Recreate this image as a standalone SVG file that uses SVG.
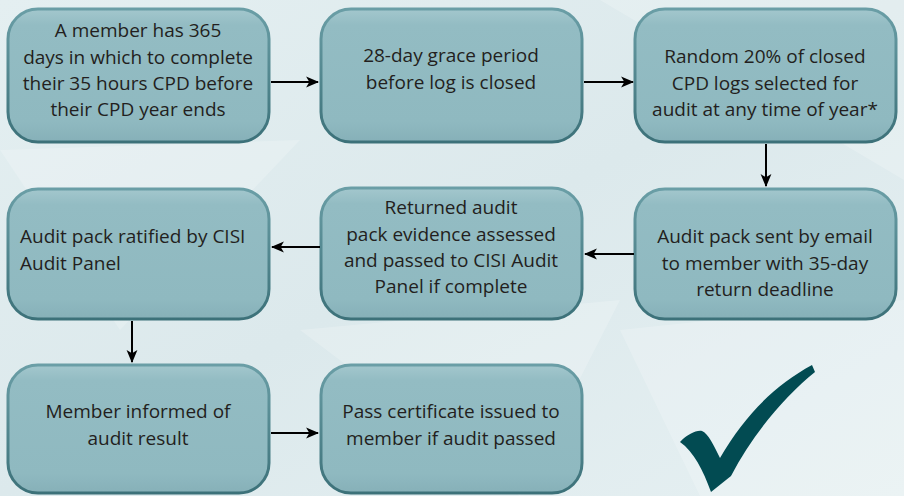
<svg xmlns="http://www.w3.org/2000/svg" width="904" height="496" viewBox="0 0 904 496">
  <defs>
    <linearGradient id="bg" x1="0" y1="0" x2="1" y2="1">
      <stop offset="0" stop-color="#e4eff1"/>
      <stop offset="0.5" stop-color="#dce9ec"/>
      <stop offset="1" stop-color="#e6f0f2"/>
    </linearGradient>
    <linearGradient id="boxFill" x1="0" y1="0" x2="0" y2="1">
      <stop offset="0" stop-color="#a3c7cd"/>
      <stop offset="0.12" stop-color="#93bcc3"/>
      <stop offset="0.85" stop-color="#8fb9c0"/>
      <stop offset="1" stop-color="#86b0b8"/>
    </linearGradient>
    <linearGradient id="boxEdge" x1="0" y1="0" x2="0" y2="1">
      <stop offset="0" stop-color="#6a9ea6"/>
      <stop offset="1" stop-color="#3c7179"/>
    </linearGradient>
    <marker id="head" viewBox="0 0 12 12" refX="11" refY="6" markerWidth="13" markerHeight="13" markerUnits="userSpaceOnUse" orient="auto">
      <path d="M0,1 L12,6 L0,11 L3,6 Z" fill="#000"/>
    </marker>
  </defs>
  <style>
    .box { fill: url(#boxFill); stroke: url(#boxEdge); stroke-width: 3; }
    .label { font-family: "Open Sans", "Noto Sans", sans-serif; font-size: 19px; fill: #231f20; text-anchor: middle; }
    .left { text-anchor: start; }
    .conn { stroke: #000; stroke-width: 2; fill: none; marker-end: url(#head); }
  </style>

  <!-- background with faint facets -->
  <rect width="904" height="496" fill="url(#bg)"/>
  <g fill="#ffffff" opacity="0.2">
    <polygon points="0,150 300,140 120,330"/>
    <polygon points="600,0 904,0 904,180"/>
    <polygon points="300,330 620,300 520,496"/>
    <polygon points="620,330 904,300 904,496 700,496"/>
  </g>

  <!-- steps -->
  <g id="step-cpd-year">
    <rect class="box" x="8" y="9" width="261" height="133" rx="30"/>
    <text class="label" x="138" y="37">A member has 365</text>
    <text class="label" x="138" y="63.5">days in which to complete</text>
    <text class="label" x="138" y="90">their 35 hours CPD before</text>
    <text class="label" x="138" y="116">their CPD year ends</text>
  </g>
  <g id="step-grace">
    <rect class="box" x="321" y="9" width="261" height="133" rx="30"/>
    <text class="label" x="451" y="62">28-day grace period</text>
    <text class="label" x="451" y="89">before log is closed</text>
  </g>
  <g id="step-random">
    <rect class="box" x="635" y="9" width="261" height="133" rx="30"/>
    <text class="label" x="765" y="63">Random 20% of closed</text>
    <text class="label" x="765" y="90">CPD logs selected for</text>
    <text class="label" x="765" y="116">audit at any time of year*</text>
  </g>
  <g id="step-pack-sent">
    <rect class="box" x="635" y="189" width="261" height="130" rx="30"/>
    <text class="label" x="765" y="243">Audit pack sent by email</text>
    <text class="label" x="765" y="270">to member with 35-day</text>
    <text class="label" x="765" y="296">return deadline</text>
  </g>
  <g id="step-assessed">
    <rect class="box" x="321" y="188" width="261" height="131" rx="30"/>
    <text class="label" x="451" y="214">Returned audit</text>
    <text class="label" x="451" y="241">pack evidence assessed</text>
    <text class="label" x="451" y="267">and passed to CISI Audit</text>
    <text class="label" x="451" y="293">Panel if complete</text>
  </g>
  <g id="step-ratified">
    <rect class="box" x="8" y="189" width="261" height="130" rx="30"/>
    <text class="label left" x="20" y="243">Audit pack ratified by CISI</text>
    <text class="label left" x="20" y="270">Audit Panel</text>
  </g>
  <g id="step-informed">
    <rect class="box" x="8" y="365" width="261" height="128" rx="30"/>
    <text class="label" x="138" y="418">Member informed of</text>
    <text class="label" x="138" y="445">audit result</text>
  </g>
  <g id="step-certificate">
    <rect class="box" x="321" y="365" width="261" height="128" rx="30"/>
    <text class="label" x="451" y="418">Pass certificate issued to</text>
    <text class="label" x="451" y="445">member if audit passed</text>
  </g>

  <!-- connectors -->
  <g id="connectors">
    <line class="conn" x1="271" y1="82" x2="318" y2="82"/>
    <line class="conn" x1="584" y1="82" x2="633" y2="82"/>
    <line class="conn" x1="766" y1="144" x2="766" y2="186"/>
    <line class="conn" x1="634" y1="254" x2="585" y2="254"/>
    <line class="conn" x1="320" y1="247" x2="272" y2="247"/>
    <line class="conn" x1="132" y1="321" x2="132" y2="362"/>
    <line class="conn" x1="271" y1="433" x2="318" y2="433"/>
  </g>

  <!-- tick mark -->
  <path id="tick" d="M680,442 C688,434 696,430 702,431 C708,433 714,446 720,458 C745,415 775,385 812,365 L815,372 C785,396 752,435 731,476 L711,492 C703,470 694,452 680,442 Z" fill="#024b52"/>
</svg>
